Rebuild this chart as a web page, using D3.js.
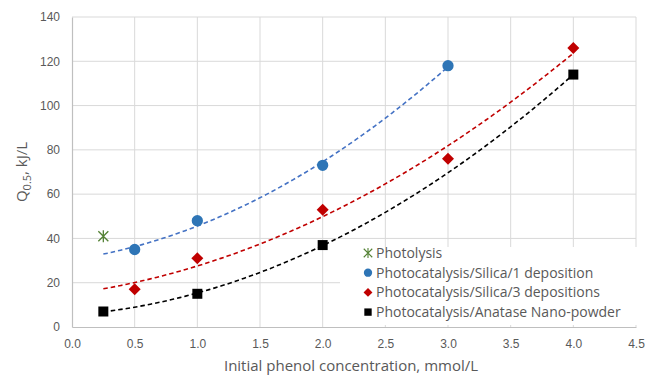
<!DOCTYPE html>
<meta charset="utf-8">
<head>
    <meta charset="utf-8">
    <title>Q0.5 vs phenol concentration</title>
    <script src="https://d3js.org/d3.v7.min.js" charset="utf-8"></script>
    <style>
        html, body { margin: 0; padding: 0; background: #fff; }
        svg { font-family: "Open Sans", sans-serif; }
        .grid line { stroke: #d9d9d9; stroke-width: 1px; }
        .tick text { fill: #595959; font-size: 12px; }
        .trend { fill: none; stroke-width: 1.6px; stroke-dasharray: 4.5 3; }
        .legend text { fill: #595959; font-size: 14px; }
    </style>
</head>
<body>
<svg width="654" height="380"></svg>
<script>

// データ
var photolysisX = [0.25],
    photolysisY = [41];

var silica1X = [0.5, 1, 2, 3],
    silica1Y = [35, 48, 73, 118];

var silica3X = [0.5, 1, 2, 3, 4],
    silica3Y = [17, 31, 53, 76, 126];

var anataseX = [0.25, 1, 2, 4],
    anataseY = [7, 15, 37, 114];

var xTicks = [0, 0.5, 1, 1.5, 2, 2.5, 3, 3.5, 4, 4.5],
    yTicks = [0, 20, 40, 60, 80, 100, 120, 140];

var legendLabels = [
    "Photolysis",
    "Photocatalysis/Silica/1 deposition",
    "Photocatalysis/Silica/3 depositions",
    "Photocatalysis/Anatase Nano-powder"
];

// trendline start (backward forecast)
var trendStart = 0.25;

var svg = d3.select("svg"),
    margin = {top: 17, right: 18, bottom: 53, left: 72},
    width = +svg.attr("width") - margin.left - margin.right,
    height = +svg.attr("height") - margin.top - margin.bottom;

var x = d3.scaleLinear().domain([0, 4.5]).range([0, width]),
    y = d3.scaleLinear().domain([0, 140]).range([height, 0]);

var g = svg.append("g")
    .attr("transform", "translate(" + margin.left + "," + margin.top + ")");

// grid
var grid = g.append("g").attr("class", "grid");
grid.selectAll(".hg").data(yTicks.slice(1)).enter().append("line")
    .attr("x1", 0).attr("x2", width)
    .attr("y1", d => y(d)).attr("y2", d => y(d));
grid.selectAll(".vg").data(xTicks.slice(1)).enter().append("line")
    .attr("x1", d => x(d)).attr("x2", d => x(d))
    .attr("y1", 0).attr("y2", height);

// axes
var xAxis = g.append("g")
    .attr("transform", "translate(0," + height + ")")
    .call(d3.axisBottom(x).tickValues(xTicks).tickFormat(d3.format(".1f")).tickSize(0).tickPadding(12));
xAxis.select(".domain").attr("stroke", "#bfbfbf").attr("stroke-width", 1.2);

var yAxis = g.append("g")
    .call(d3.axisLeft(y).tickValues(yTicks).tickSize(0).tickPadding(12));
yAxis.select(".domain").attr("stroke", "#bfbfbf").attr("stroke-width", 1.2);

// 2次多項式の近似曲線 (最小二乗)
function quadFit(xs, ys) {
    var s = [0, 0, 0, 0, 0], t = [0, 0, 0];
    xs.forEach((xv, i) => {
        for (var k = 0; k < 5; k++) s[k] += Math.pow(xv, k);
        for (var k = 0; k < 3; k++) t[k] += Math.pow(xv, k) * ys[i];
    });
    var A = [[s[0], s[1], s[2], t[0]], [s[1], s[2], s[3], t[1]], [s[2], s[3], s[4], t[2]]];
    for (var i = 0; i < 3; i++) {
        for (var j = i + 1; j < 3; j++) {
            var f = A[j][i] / A[i][i];
            for (var k = i; k < 4; k++) A[j][k] -= f * A[i][k];
        }
    }
    var c = [0, 0, 0];
    for (var i = 2; i >= 0; i--) {
        var v = A[i][3];
        for (var k = i + 1; k < 3; k++) v -= A[i][k] * c[k];
        c[i] = v / A[i][i];
    }
    return xv => c[0] + c[1] * xv + c[2] * xv * xv;
}

var line = d3.line().x(d => x(d[0])).y(d => y(d[1]));

function drawTrend(xs, ys, color) {
    var f = quadFit(xs, ys);
    var end = d3.max(xs);
    var pts = d3.range(trendStart, end + 1e-9, (end - trendStart) / 80).map(v => [v, f(v)]);
    g.append("path").datum(pts).attr("class", "trend").attr("stroke", color).attr("d", line);
}

drawTrend(silica1X, silica1Y, "#4472c4");
drawTrend(silica3X, silica3Y, "#c00000");
drawTrend(anataseX, anataseY, "#000000");

// markers
var symCircle = d3.symbol().type(d3.symbolCircle).size(100),
    symSquare = d3.symbol().type(d3.symbolSquare).size(100),
    symDiamond = d3.symbol().type(d3.symbolSquare).size(72);

function star(sel, color) {
    sel.append("path")
        .attr("d", "M-5,-5L5,5M-5,5L5,-5M0,-6L0,6")
        .attr("stroke", color).attr("stroke-width", 1.3).attr("fill", "none");
}

function drawPoints(xs, ys, sym, color, rot) {
    g.selectAll(null).data(xs).enter().append("path")
        .attr("transform", (d, i) => "translate(" + x(d) + "," + y(ys[i]) + ")" + (rot ? " rotate(45)" : ""))
        .attr("d", sym)
        .attr("fill", color);
}

photolysisX.forEach((d, i) => {
    g.append("g").attr("transform", "translate(" + x(d) + "," + y(photolysisY[i]) + ")").call(star, "#548235");
});
drawPoints(silica1X, silica1Y, symCircle, "#2e75b6");
drawPoints(silica3X, silica3Y, symDiamond, "#c00000", true);
drawPoints(anataseX, anataseY, symSquare, "#000000");

// legend
var legend = svg.append("g").attr("class", "legend").attr("transform", "translate(340,247)");
legend.append("rect").attr("width", 298).attr("height", 78).attr("fill", "#fff");

var legendSyms = [
    s => s.call(star, "#548235"),
    s => s.append("path").attr("d", d3.symbol().type(d3.symbolCircle).size(75)).attr("fill", "#2e75b6"),
    s => s.append("path").attr("d", d3.symbol().type(d3.symbolSquare).size(55)).attr("transform", "rotate(45)").attr("fill", "#c00000"),
    s => s.append("path").attr("d", d3.symbol().type(d3.symbolSquare).size(75)).attr("fill", "#000")
];

legendLabels.forEach((lab, i) => {
    var row = legend.append("g").attr("transform", "translate(0," + (6 + i * 19.7) + ")");
    row.append("g").attr("transform", "translate(28,0) scale(0.85)").call(legendSyms[i]);
    row.append("text").attr("x", 36).attr("dy", "0.35em").text(lab);
});

// axis titles
svg.append("text")
    .attr("x", margin.left + width / 2 - 3).attr("y", 371)
    .attr("text-anchor", "middle").attr("fill", "#595959").attr("font-size", 15)
    .text("Initial phenol concentration, mmol/L");

var yt = svg.append("text")
    .attr("transform", "translate(27," + (margin.top + height / 2) + ") rotate(-90)")
    .attr("text-anchor", "middle").attr("fill", "#595959").attr("font-size", 15);
yt.append("tspan").text("Q");
yt.append("tspan").attr("font-size", 11).attr("dy", 4).text("0.5");
yt.append("tspan").attr("dy", -4).text(", kJ/L");

</script>
</body>
</html>
